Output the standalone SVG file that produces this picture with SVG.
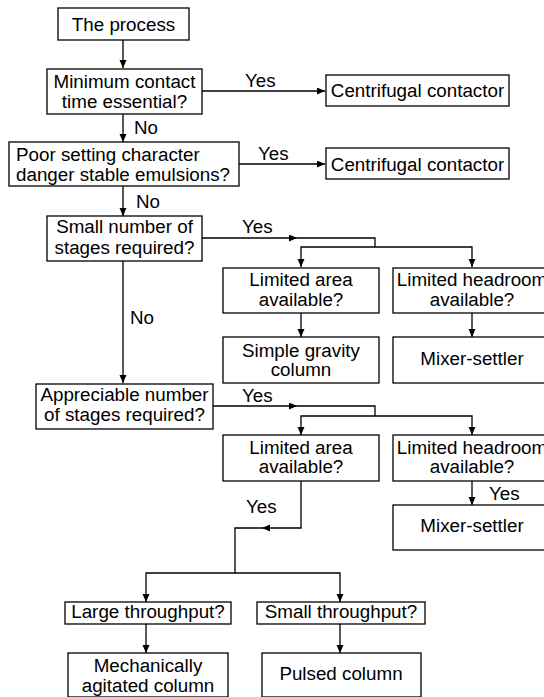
<svg xmlns="http://www.w3.org/2000/svg" width="544" height="697" viewBox="0 0 544 697">
<defs>
<marker id="ah" markerWidth="9" markerHeight="8" refX="8" refY="3.5" orient="auto" markerUnits="userSpaceOnUse"><path d="M0,0 L8,3.5 L0,7 z" fill="#000"/></marker>
<style>
rect{fill:#fff;stroke:#000;stroke-width:1.3}
text{font-family:"Liberation Sans",Arial,sans-serif;font-size:18.8px;fill:#000}
.c{text-anchor:middle}
.e{fill:none;stroke:#000;stroke-width:1.3}
.a{marker-end:url(#ah)}
</style>
</defs>
<g id="connectors">
<path class="e a" d="M123,40 V68"/>
<path class="e a" d="M202,91 H325"/>
<path class="e a" d="M123,114 V142"/>
<path class="e a" d="M239,164 H325"/>
<path class="e a" d="M123,186 V216"/>
<path class="e a" d="M202,238 H297"/>
<path class="e" d="M297,238 H375 V247"/>
<path class="e a" d="M375,247 H301 V267"/>
<path class="e a" d="M375,247 H472 V267"/>
<path class="e a" d="M301,313 V337"/>
<path class="e a" d="M472,313 V337"/>
<path class="e a" d="M123,261 V383"/>
<path class="e a" d="M213,406 H297"/>
<path class="e" d="M297,406 H375 V416"/>
<path class="e a" d="M375,416 H301 V435"/>
<path class="e a" d="M375,416 H472 V435"/>
<path class="e a" d="M472,481 V505"/>
<path class="e a" d="M301,481 V528 H262"/>
<path class="e" d="M262,528 H235 V573"/>
<path class="e a" d="M235,573 H146 V602"/>
<path class="e a" d="M235,573 H340 V602"/>
<path class="e a" d="M146,624 V653"/>
<path class="e a" d="M340,624 V653"/>
<text x="245" y="87">Yes</text>
<text x="134" y="134">No</text>
<text x="258" y="160">Yes</text>
<text x="136" y="208">No</text>
<text x="242" y="233">Yes</text>
<text x="130" y="324">No</text>
<text x="242" y="402">Yes</text>
<text x="489" y="500">Yes</text>
<text x="246" y="513">Yes</text>
</g>
<g id="n1"><rect x="58" y="8" width="131" height="32"/><text class="c" x="123.5" y="31">The process</text></g>
<g id="n2"><rect x="47" y="69" width="155" height="45"/><text class="c" x="124.5" y="88">Minimum contact</text><text class="c" x="124.5" y="108">time essential?</text></g>
<g id="n3"><rect x="326" y="75" width="183" height="31"/><text class="c" x="417.5" y="97">Centrifugal contactor</text></g>
<g id="n4"><rect x="9" y="142" width="230" height="44"/><text x="16" y="161">Poor setting character</text><text x="16" y="181">danger stable emulsions?</text></g>
<g id="n5"><rect x="326" y="148" width="183" height="31"/><text class="c" x="417.5" y="171">Centrifugal contactor</text></g>
<g id="n6"><rect x="47" y="216" width="155" height="45"/><text class="c" x="124.5" y="233">Small number of</text><text class="c" x="124.5" y="254">stages required?</text></g>
<g id="n7"><rect x="223" y="268" width="156" height="45"/><text class="c" x="301" y="286">Limited area</text><text class="c" x="301" y="306">available?</text></g>
<g id="n8"><rect x="393" y="268" width="158" height="45"/><text class="c" x="472" y="286">Limited headroom</text><text class="c" x="472" y="306">available?</text></g>
<g id="n9"><rect x="223" y="337" width="156" height="46"/><text class="c" x="301" y="357">Simple gravity</text><text class="c" x="301" y="376">column</text></g>
<g id="n10"><rect x="393" y="337" width="158" height="46"/><text class="c" x="472" y="365">Mixer-settler</text></g>
<g id="n11"><rect x="36" y="384" width="177" height="45"/><text class="c" x="124.5" y="401">Appreciable number</text><text class="c" x="124.5" y="421">of stages required?</text></g>
<g id="n12"><rect x="223" y="435" width="156" height="46"/><text class="c" x="301" y="454">Limited area</text><text class="c" x="301" y="473">available?</text></g>
<g id="n13"><rect x="393" y="435" width="158" height="46"/><text class="c" x="472" y="454">Limited headroom</text><text class="c" x="472" y="473">available?</text></g>
<g id="n14"><rect x="393" y="505" width="158" height="45"/><text class="c" x="472" y="532">Mixer-settler</text></g>
<g id="n15"><rect x="65" y="602" width="166" height="22"/><text class="c" x="148" y="618">Large throughput?</text></g>
<g id="n16"><rect x="257" y="602" width="168" height="22"/><text class="c" x="341" y="618">Small throughput?</text></g>
<g id="n17"><rect x="68" y="653" width="160" height="44"/><text class="c" x="148" y="672">Mechanically</text><text class="c" x="148" y="692">agitated column</text></g>
<g id="n18"><rect x="262" y="653" width="159" height="44"/><text class="c" x="341" y="680">Pulsed column</text></g>
</svg>
